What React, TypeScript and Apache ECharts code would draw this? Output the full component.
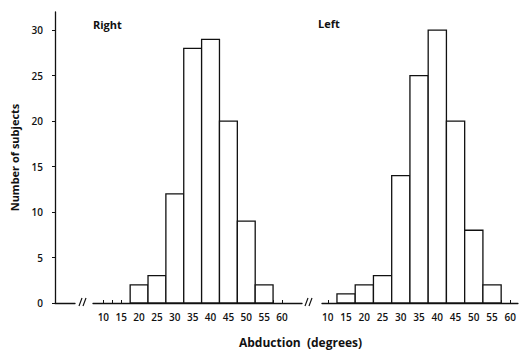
import React, { useEffect, useRef } from "react";
import * as echarts from "echarts";

const degrees = [10, 15, 20, 25, 30, 35, 40, 45, 50, 55, 60];
const rightCounts = [0, 0, 2, 3, 12, 28, 29, 20, 9, 2, 0];
const leftCounts = [0, 1, 2, 3, 14, 25, 30, 20, 8, 2, 0];
const yTickValues = [0, 5, 10, 15, 20, 25, 30];
const xTickMarks = [10, 12.5, 15, 17.5, 20, 22.5, 25, 27.5, 30, 32.5, 35, 37.5, 40, 42.5, 45, 47.5, 50, 52.5, 55, 57.5, 60];
const binWidth = 5;

const INK = "#111";
const FONT = "'Open Sans', 'DejaVu Sans', sans-serif";

function histSeries(counts: number[], idx: number) {
  return {
    type: "custom",
    xAxisIndex: idx,
    yAxisIndex: idx,
    data: degrees.map((d, i) => [d, counts[i]]),
    renderItem: (_params: any, api: any) => {
      const x = api.value(0);
      const y = api.value(1);
      if (!y) return null;
      const p0 = api.coord([x - binWidth / 2, y]);
      const p1 = api.coord([x + binWidth / 2, 0]);
      return {
        type: "rect",
        shape: { x: p0[0], y: p0[1], width: p1[0] - p0[0], height: p1[1] - p0[1] },
        style: { fill: "#fff", stroke: INK, lineWidth: 1.3 },
      };
    },
  };
}

function xAxisCfg(idx: number, min: number, max: number) {
  return {
    type: "value",
    gridIndex: idx,
    min,
    max,
    axisLine: { show: true, lineStyle: { color: INK, width: 1.3 } },
    axisTick: { show: true, inside: true, length: 3, customValues: xTickMarks, lineStyle: { color: INK, width: 1 } },
    axisLabel: { show: true, customValues: degrees, margin: 9, fontSize: 10, color: INK, fontFamily: FONT, fontWeight: 600 },
    splitLine: { show: false },
  };
}

export default function App() {
  const ref = useRef<HTMLDivElement>(null);
  useEffect(() => {
    if (!ref.current) return;
    const chart = echarts.init(ref.current, undefined, { renderer: "svg" });
    const top = 12;
    const bottom = 48;
    chart.setOption({
      animation: false,
      backgroundColor: "#fff",
      grid: [
        { left: 55, width: 20, top, bottom },
        { left: 93, width: 209, top, bottom },
        { left: 322, width: 197, top, bottom },
      ],
      xAxis: [
        {
          type: "value",
          gridIndex: 0,
          min: 0,
          max: 1,
          axisLine: { show: true, lineStyle: { color: INK, width: 1.3 } },
          axisTick: { show: false },
          axisLabel: { show: false },
          splitLine: { show: false },
        },
        xAxisCfg(1, 7.1, 65.6),
        xAxisCfg(2, 8.4, 62.1),
      ],
      yAxis: [
        {
          type: "value",
          gridIndex: 0,
          min: 0,
          max: 32,
          name: "Number of subjects",
          nameLocation: "middle",
          nameGap: 35,
          nameTextStyle: { fontSize: 11, fontWeight: "bold", color: INK, fontFamily: FONT },
          axisLine: { show: true, lineStyle: { color: INK, width: 1.3 } },
          axisTick: { show: true, length: 3, customValues: yTickValues, lineStyle: { color: INK } },
          axisLabel: { customValues: yTickValues, margin: 12, fontSize: 10, color: INK, fontFamily: FONT, fontWeight: 600 },
          splitLine: { show: false },
        },
        { type: "value", gridIndex: 1, min: 0, max: 32, show: false, splitLine: { show: false } },
        { type: "value", gridIndex: 2, min: 0, max: 32, show: false, splitLine: { show: false } },
      ],
      series: [histSeries(rightCounts, 1), histSeries(leftCounts, 2)],
      graphic: [
        { type: "text", left: 93, top: 19, style: { text: "Right", fontSize: 11, fontWeight: "bold", fill: INK, fontFamily: FONT } },
        { type: "text", left: 318, top: 18, style: { text: "Left", fontSize: 11, fontWeight: "bold", fill: INK, fontFamily: FONT } },
        { type: "text", left: 239, top: 336, style: { text: "Abduction  (degrees)", fontSize: 12, fontWeight: "bold", fill: INK, fontFamily: FONT } },
        { type: "line", shape: { x1: 79, y1: 306, x2: 82, y2: 298 }, style: { stroke: INK, lineWidth: 1.2 } },
        { type: "line", shape: { x1: 83, y1: 306, x2: 86, y2: 298 }, style: { stroke: INK, lineWidth: 1.2 } },
        { type: "line", shape: { x1: 305, y1: 306, x2: 308, y2: 298 }, style: { stroke: INK, lineWidth: 1.2 } },
        { type: "line", shape: { x1: 309, y1: 306, x2: 312, y2: 298 }, style: { stroke: INK, lineWidth: 1.2 } },
      ],
    });
    return () => chart.dispose();
  }, []);
  return <div ref={ref} style={{ position: "fixed", left: 0, top: 0, width: 519, height: 351 }} />;
}
